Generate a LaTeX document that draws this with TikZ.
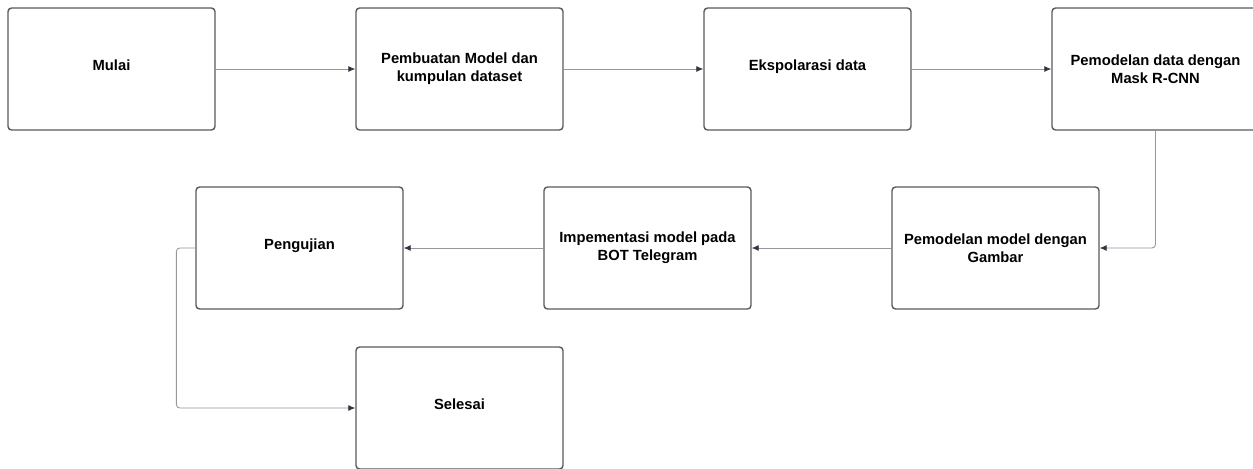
\documentclass[tikz,border=0pt]{standalone}
\usepackage{fontspec}
\setmainfont{Liberation Sans}
\definecolor{boxline}{RGB}{90,90,96}
\definecolor{arrline}{RGB}{150,150,155}
\definecolor{tipcol}{RGB}{50,52,64}
\usetikzlibrary{arrows.meta}
\tikzset{
  stepbox/.style={draw=boxline, line width=0.8pt, rounded corners=2pt,
    minimum width=4.14cm, minimum height=2.44cm, align=center,
    font=\fontsize{8.4}{10.2}\selectfont\bfseries, fill=white},
  oneline/.style={text height=6.5pt, text depth=5pt},
  flow/.style={draw=arrline, line width=0.5pt,
    -{Latex[length=4pt,width=3.4pt,color=tipcol]}}
}
\begin{document}
\begin{tikzpicture}[x=0.02cm,y=-0.02cm]
      \useasboundingbox (0,0) rectangle (1253,468);
      \draw
        (111.5,69) node[stepbox,oneline] (mulai){Mulai}
        (459.5,69) node[stepbox] (pembuatan){Pembuatan Model dan\\kumpulan dataset}
        (807.5,69) node[stepbox,oneline] (eksplorasi){Ekspolarasi data}
        (1155.5,69) node[stepbox] (pemodelandata){Pemodelan data dengan\\Mask R-CNN}
        (995.5,248) node[stepbox] (pemodelanmodel){Pemodelan model dengan\\Gambar}
        (647.5,248) node[stepbox] (implementasi){Impementasi model pada\\BOT Telegram}
        (299.5,248) node[stepbox,oneline] (pengujian){Pengujian}
        (459.5,408) node[stepbox,oneline] (selesai){Selesai};
      \begin{scope}[flow]
        \draw (mulai) to (pembuatan);
        \draw (pembuatan) to (eksplorasi);
        \draw (eksplorasi) to (pemodelandata);
        \draw[rounded corners=2pt] (pemodelandata.south) |- (pemodelanmodel.east);
        \draw (pemodelanmodel) to (implementasi);
        \draw (implementasi) to (pengujian);
        \draw[rounded corners=2pt] (pengujian.west) -- ++(-19,0) |- (selesai.west);
      \end{scope}
    \end{tikzpicture}
\end{document}
